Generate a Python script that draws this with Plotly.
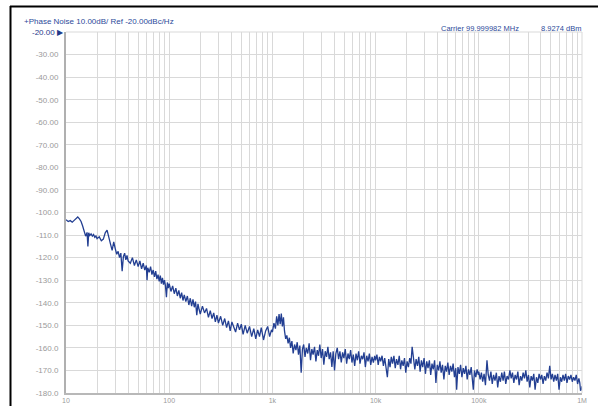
import plotly.graph_objects as go

freq_hz = [
    10, 10.5, 11, 11.5, 12, 12.5, 13, 13.5, 14, 14.5, 15, 15.5, 16, 16.3, 16.6, 17, 17.5, 18, 18.5, 19, 19.5,
    20, 21, 22, 23, 24, 25, 26, 27, 28, 29, 30, 31, 32, 33, 34, 35, 36, 37, 38, 39, 40, 42, 44, 46, 48,
    50, 52, 54, 56, 58, 60, 61, 62, 64, 66, 68, 70, 72, 74, 76, 78, 80, 82, 84, 86, 88, 90, 92, 94, 96, 98,
    100, 104, 108, 112, 116, 120, 124, 128, 132, 136, 140, 145, 150, 155, 160, 165, 170, 175, 180, 185, 190, 195,
    200, 210, 220, 230, 240, 250, 260, 270, 280, 290, 300, 315, 330, 345, 360, 375, 390, 405, 420, 440, 460, 480,
    500, 520, 545, 570, 600, 630, 660, 690, 720, 750, 780, 820, 860, 900, 940, 980,
    1000, 1035, 1070, 1100, 1130, 1160, 1190, 1220, 1250, 1280, 1310, 1345, 1380, 1420, 1460, 1500, 1545, 1590,
    1640, 1690, 1740, 1790, 1845, 1900, 1955, 2010, 2070, 2130, 2200, 2270, 2340, 2410, 2480, 2560, 2640, 2720,
    2800, 2880, 2970, 3060, 3150, 3250, 3350, 3450, 3550, 3660, 3770, 3880, 4000, 4120, 4250, 4380, 4510, 4650,
    4790, 4930, 5080, 5240, 5400, 5560, 5730, 5900, 6080, 6270, 6460, 6650, 6850, 7060, 7280, 7500, 7720, 7960,
    8200, 8450, 8700, 8970, 9240, 9520, 9800,
    10000, 10300, 10600, 10900, 11200, 11550, 11900, 12250, 12600, 13000, 13400, 13800, 14200, 14600, 15050,
    15500, 15950, 16450, 16950, 17450, 17950, 18500, 19050, 19600, 20200, 20800, 21400, 22000, 22600, 23300,
    24000, 24700, 25450, 26200, 27000, 27800, 28600, 29500, 30400, 31300, 32200, 33200, 34200, 35200, 36200,
    37300, 38400, 39600, 40800, 42000, 43200, 44500, 45900, 47300, 48700, 50100, 51600, 53200, 54800, 56400,
    58100, 59800, 61000, 62800, 64700, 66600, 68600, 70700, 72800, 75000, 77200, 79500, 81900, 84400, 86900,
    88500, 90800, 93500, 96300, 99000,
    100000, 103000, 106000, 109000, 112500, 116000, 120000, 123500, 127000, 131000, 135000, 139000, 143500,
    148000, 152500, 157000, 162000, 167000, 172000, 177000, 182500, 188000, 194000, 200000, 206000, 212000,
    218500, 225000, 232000, 239000, 246000, 253500, 261000, 269000, 277000, 285500, 294000, 303000, 312000,
    321500, 331000, 341000, 351000, 362000, 373000, 384000, 395500, 407500, 419500, 432000, 445000, 458500,
    472500, 487000, 501500, 516500, 532000, 548000, 564500, 581500, 599000, 617000, 635500, 654500, 674000,
    694500, 715000, 736500, 758500, 781500, 805000, 829000, 854000, 879500, 906000, 933000, 952000, 968000,
    984000, 1000000,
]

phase_noise_dbc = [
    -103.2, -104.0, -103.6, -104.3, -103.5, -102.6, -102.0, -102.8, -104.0, -106.0, -108.5, -110.5, -108.8, -115.0,
    -109.0, -110.2, -109.5, -110.5, -109.8, -111.0, -110.4,
    -111.6, -110.8, -112.5, -111.8, -109.0, -107.8, -111.5, -114.0, -116.8, -113.0, -116.0, -118.5, -117.2, -120.0,
    -118.0, -126.0, -119.5, -118.0, -121.0, -119.0, -121.5, -122.5, -120.0, -123.5, -121.0,
    -124.0, -121.5, -125.0, -122.5, -125.5, -123.5, -130.0, -124.5, -126.5, -124.0, -127.5, -125.5, -128.5, -126.0,
    -129.5, -127.5, -130.5, -128.0, -131.5, -129.0, -132.0, -130.0, -132.5, -137.5, -131.0, -133.5,
    -131.5, -135.0, -132.5, -136.0, -133.5, -137.0, -134.5, -138.0, -135.5, -139.0, -136.5, -139.5, -137.0, -141.0,
    -138.0, -141.5, -138.5, -142.0, -139.5, -145.5, -140.5, -143.0,
    -145.0, -141.5, -144.5, -142.5, -146.5, -143.5, -147.0, -144.5, -148.5, -145.5, -149.0, -146.0, -150.0, -147.0,
    -151.0, -148.0, -152.5, -148.5, -151.0, -153.0, -149.0, -152.0,
    -149.5, -154.0, -150.0, -153.5, -150.5, -155.0, -151.5, -156.0, -152.0, -155.0, -151.0, -156.5, -152.5, -150.5,
    -155.0, -152.0,
    -153.0, -149.0, -151.5, -146.0, -150.0, -145.0, -149.5, -144.8, -150.5, -146.5, -152.5, -156.0, -154.5, -158.0,
    -155.5, -160.0, -157.0, -162.5,
    -158.5, -161.0, -157.5, -163.0, -159.0, -171.0, -160.5, -158.5, -164.0, -160.0, -162.5, -158.0, -165.5, -160.5,
    -163.0, -159.5, -166.0, -161.0,
    -163.5, -158.5, -164.5, -160.5, -167.5, -161.5, -164.0, -159.5, -165.0, -162.0, -168.5, -161.5, -170.0, -162.5,
    -160.0, -165.0, -161.5, -166.5,
    -162.0, -164.5, -160.5, -167.0, -162.5, -165.0, -161.0, -166.5, -163.0, -168.0, -162.5, -165.5, -161.5, -167.0,
    -163.5, -165.0, -162.0, -168.5,
    -163.5, -166.0, -162.5, -167.5, -164.0, -166.5, -163.5,
    -165.5, -163.0, -167.5, -164.0, -166.0, -163.5, -168.0, -164.5, -170.0, -173.0, -165.0, -168.5, -164.0, -167.0,
    -163.5,
    -169.0, -165.0, -167.5, -163.5, -169.5, -165.5, -168.0, -164.5, -171.0, -166.0, -168.5, -164.5, -167.0, -159.5,
    -166.0,
    -169.5, -165.0, -168.0, -164.0, -170.5, -165.5, -168.5, -164.5, -171.5, -166.0, -169.0, -165.5, -172.0, -167.0,
    -169.5,
    -165.5, -175.5, -167.5, -170.0, -166.0, -171.0, -167.5, -174.0, -168.0, -170.5, -166.5, -172.0, -168.0, -170.5,
    -167.0,
    -173.0, -169.0, -178.5, -168.5, -171.5, -167.5, -173.0, -169.0, -171.5, -168.0, -174.0, -169.5, -172.0, -168.5,
    -175.0,
    -178.5, -170.0, -173.0, -169.5, -172.0,
    -170.5, -174.0, -171.0, -175.0, -171.5, -176.5, -165.5, -172.0, -174.5, -170.5, -176.0, -172.0, -174.5,
    -171.0, -177.5, -172.5, -175.0, -171.0, -174.5, -170.5, -176.0, -172.5, -174.0, -170.0, -173.5, -171.0,
    -175.5, -172.0, -174.0, -170.5, -176.5, -172.5, -174.5, -171.0, -173.5, -170.0, -175.0, -172.0, -177.5,
    -172.5, -174.5, -171.5, -178.5, -173.0, -175.5, -171.5, -174.0, -172.0, -176.0, -172.5, -174.5, -171.0,
    -173.5, -168.0, -174.0, -171.5, -175.0, -172.0, -174.5, -171.5, -178.5, -173.0, -175.0, -172.0, -174.5,
    -171.5, -175.5, -172.5, -174.0, -172.0, -175.0, -173.0, -174.5, -172.0, -176.0, -173.5, -175.5, -179.0,
    -178.5, -177.0,
]

x_tick_vals = [10, 100, 1000, 10000, 100000, 1000000]
x_tick_text = ["10", "100", "1k", "10k", "100k", "1M"]
y_tick_vals = [-20, -30, -40, -50, -60, -70, -80, -90, -100, -110, -120, -130, -140, -150, -160, -170, -180]
y_tick_text = ["", "-30.00", "-40.00", "-50.00", "-60.00", "-70.00", "-80.00", "-90.00", "-100.0", "-110.0",
               "-120.0", "-130.0", "-140.0", "-150.0", "-160.0", "-170.0", "-180.0"]

header_left = "+Phase Noise 10.00dB/ Ref -20.00dBc/Hz"
header_carrier = "Carrier 99.999982 MHz"
header_power = "8.9274 dBm"
ref_label = "-20.00 \u25B6"

W, H = 598, 406
L, R, T, B = 66, 582, 32, 393


def px(x):
    return (x - L) / (R - L)


def py(y):
    return (B - y) / (B - T)


minor_x = [m * d for d in [10, 100, 1000, 10000, 100000] for m in range(2, 10)]

grid_col = "#d9d9d9"
label_col = "#9a9a9a"
blue = "#2c4a9a"
font_fam = "Liberation Sans, Arial, sans-serif"

fig = go.Figure()
fig.add_trace(go.Scatter(
    x=freq_hz, y=phase_noise_dbc, mode="lines",
    line=dict(color="#233f92", width=1.3),
    hoverinfo="skip", showlegend=False,
))

fig.update_layout(
    width=W, height=H,
    margin=dict(l=L, r=W - R, t=T, b=H - B, autoexpand=False),
    paper_bgcolor="white", plot_bgcolor="white",
    font=dict(family=font_fam, size=8, color=label_col),
    showlegend=False,
)
fig.update_xaxes(
    type="log", range=[1, 6], tickvals=x_tick_vals, ticktext=x_tick_text,
    showgrid=True, gridcolor=grid_col, gridwidth=1,
    minor=dict(tickvals=minor_x, showgrid=True, gridcolor=grid_col, gridwidth=1, ticks=""),
    showline=True, linecolor="#b8b8b8", linewidth=1.5, zeroline=False,
    ticks="", ticklabelstandoff=0, tickfont=dict(size=7, color=label_col), automargin=False,
)
fig.update_yaxes(
    range=[-180, -20], tickvals=y_tick_vals, ticktext=y_tick_text,
    showgrid=True, gridcolor=grid_col, gridwidth=1,
    showline=True, linecolor="#b0b0b0", linewidth=2, zeroline=False,
    ticks="", ticklabelstandoff=4, tickfont=dict(size=8, color=label_col), automargin=False,
)

# right border / top gridline
fig.add_shape(type="line", xref="paper", yref="paper", x0=1, x1=1, y0=0, y1=1,
              line=dict(color=grid_col, width=1))
fig.add_shape(type="line", xref="paper", yref="paper", x0=0, x1=1, y0=1, y1=1,
              line=dict(color=grid_col, width=1))
# outer black frame (top and left)
fig.add_shape(type="line", xref="paper", yref="paper", x0=px(10), x1=px(598), y0=py(6.5), y1=py(6.5),
              line=dict(color="black", width=2))
fig.add_shape(type="line", xref="paper", yref="paper", x0=px(10.5), x1=px(10.5), y0=py(6), y1=py(406),
              line=dict(color="black", width=2))

fig.add_annotation(xref="paper", yref="paper", x=px(22), y=py(21.5), xanchor="left", yanchor="middle",
                   text=header_left, showarrow=False, font=dict(size=8, color=blue, family=font_fam))
fig.add_annotation(xref="paper", yref="paper", x=px(521), y=py(28.5), xanchor="right", yanchor="middle",
                   text=header_carrier, showarrow=False, font=dict(size=7.5, color=blue, family=font_fam))
fig.add_annotation(xref="paper", yref="paper", x=px(583), y=py(28.5), xanchor="right", yanchor="middle",
                   text=header_power, showarrow=False, font=dict(size=7.5, color=blue, family=font_fam))
fig.add_annotation(xref="paper", yref="paper", x=px(66), y=py(32), xanchor="right", yanchor="middle",
                   text=ref_label, showarrow=False, font=dict(size=8, color="#1f3a8a", family=font_fam))

fig.write_html(
    "out.html",
    config={"displayModeBar": False, "staticPlot": True},
    post_script="document.body.style.margin='0';document.body.style.overflow='hidden';",
)
